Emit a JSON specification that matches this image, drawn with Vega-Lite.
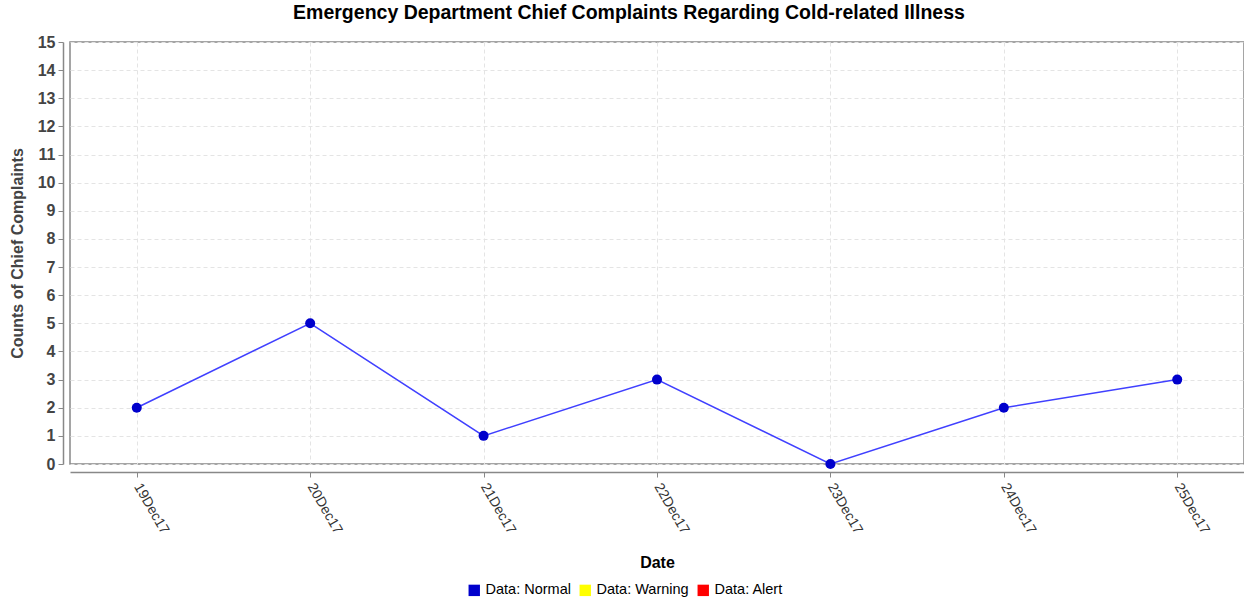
{
  "$schema": "https://vega.github.io/schema/vega-lite/v6.json",
  "autosize": {"type": "none"},
  "padding": {"left": 70, "top": 42, "right": 0, "bottom": 138},
  "width": 1174,
  "height": 422,
  "background": "white",
  "title": {
    "text": "Emergency Department Chief Complaints Regarding Cold-related Illness",
    "font": "Liberation Sans",
    "fontSize": 19.5,
    "fontWeight": "bold",
    "color": "#000000",
    "anchor": "middle",
    "dx": -28,
    "offset": 11
  },
  "config": {
    "font": "Liberation Sans",
    "view": {"stroke": "#888888", "strokeWidth": 1.5}
  },
  "data": {
    "values": [
      {"date": "19Dec17", "count": 2, "status": "Data: Normal"},
      {"date": "20Dec17", "count": 5, "status": "Data: Normal"},
      {"date": "21Dec17", "count": 1, "status": "Data: Normal"},
      {"date": "22Dec17", "count": 3, "status": "Data: Normal"},
      {"date": "23Dec17", "count": 0, "status": "Data: Normal"},
      {"date": "24Dec17", "count": 2, "status": "Data: Normal"},
      {"date": "25Dec17", "count": 3, "status": "Data: Normal"}
    ]
  },
  "encoding": {
    "x": {
      "field": "date",
      "type": "ordinal",
      "sort": null,
      "scale": {"type": "point", "padding": 0.385},
      "axis": {
        "title": "Date",
        "titleFont": "Liberation Sans",
        "titleFontSize": 16,
        "titleFontWeight": "bold",
        "titleColor": "#000000",
        "titlePadding": 18,
        "labelAngle": 60,
        "labelFontSize": 14,
        "labelColor": "#333333",
        "labelPadding": 7,
        "offset": 8,
        "domainColor": "#888888",
        "domainWidth": 1.5,
        "tickColor": "#888888",
        "tickSize": 5,
        "grid": true,
        "gridColor": "#e4e4e4",
        "gridDash": [4, 3]
      }
    },
    "y": {
      "field": "count",
      "type": "quantitative",
      "scale": {"domain": [0, 15], "nice": false},
      "axis": {
        "title": "Counts of Chief Complaints",
        "titleFont": "Liberation Sans",
        "titleFontSize": 16,
        "titleFontWeight": "bold",
        "titleColor": "#444444",
        "titlePadding": 12,
        "values": [0,1,2,3,4,5,6,7,8,9,10,11,12,13,14,15],
        "labelFontSize": 16,
        "labelFontWeight": "bold",
        "labelColor": "#444444",
        "labelPadding": 3,
        "offset": 7,
        "domainColor": "#888888",
        "domainWidth": 1.5,
        "tickColor": "#888888",
        "tickSize": 5,
        "grid": true,
        "gridColor": "#e4e4e4",
        "gridDash": [4, 3]
      }
    }
  },
  "layer": [
    {
      "mark": {"type": "line", "color": "#4040ff", "strokeWidth": 1.5}
    },
    {
      "mark": {"type": "point", "filled": true, "opacity": 1, "size": 100, "shape": "circle"},
      "encoding": {
        "color": {
          "field": "status",
          "type": "nominal",
          "scale": {
            "domain": ["Data: Normal", "Data: Warning", "Data: Alert"],
            "range": ["#0000cc", "#ffff00", "#ff0000"]
          },
          "legend": {
            "title": null,
            "orient": "none",
            "direction": "horizontal",
            "legendX": 397,
            "legendY": 541,
            "symbolType": "square",
            "symbolSize": 130,
            "symbolStrokeWidth": 0,
            "labelFontSize": 14.5,
            "labelColor": "#000000",
            "labelFont": "Liberation Sans",
            "columnPadding": 7,
            "labelOffset": 4
          }
        }
      }
    }
  ]
}
